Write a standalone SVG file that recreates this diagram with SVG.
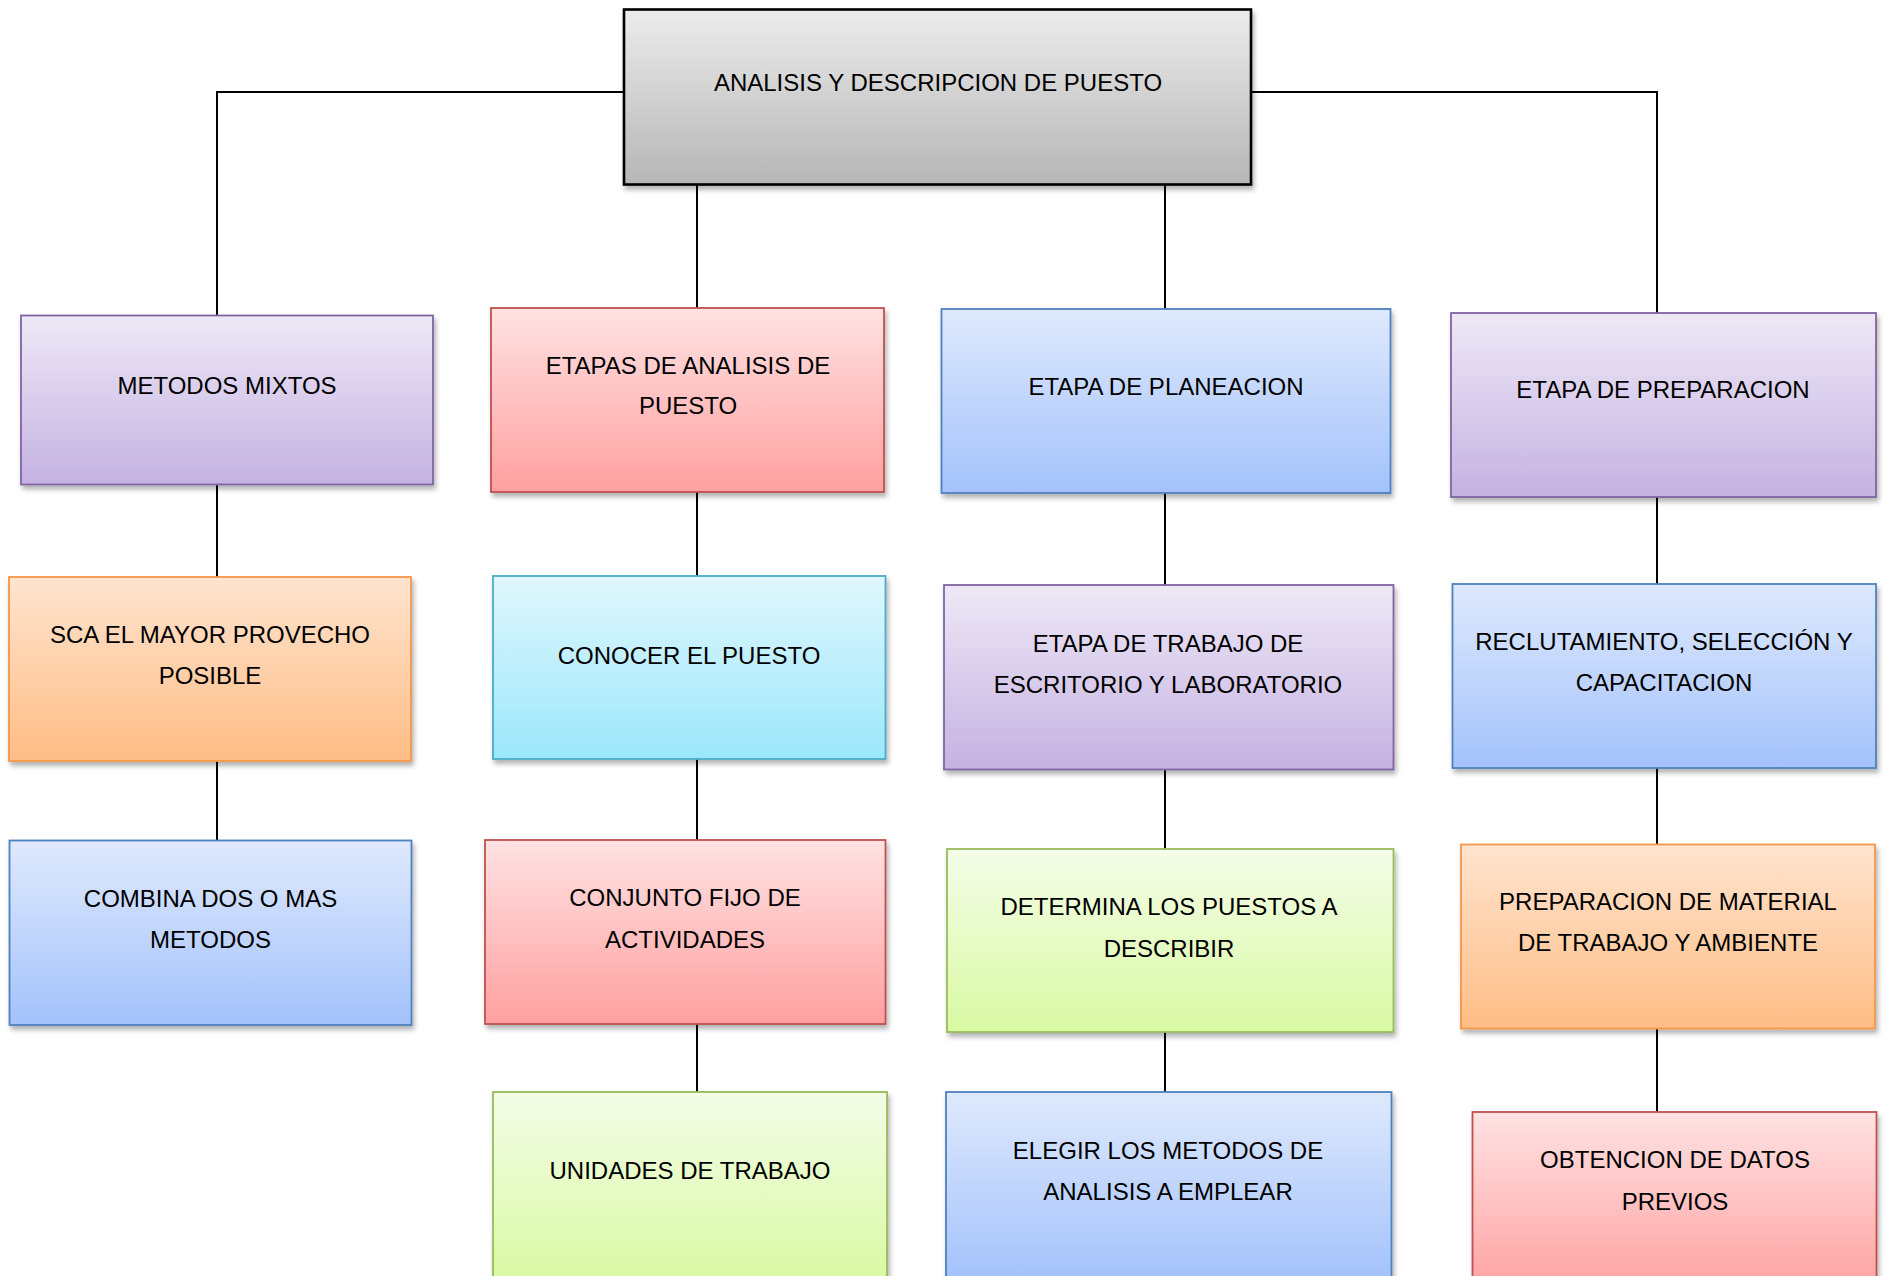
<svg xmlns="http://www.w3.org/2000/svg" width="1889" height="1276" viewBox="0 0 1889 1276">
<defs>
<linearGradient id="gGray" x1="0" y1="0" x2="0" y2="1"><stop offset="0" stop-color="#ececec"/><stop offset="1" stop-color="#b6b6b6"/></linearGradient>
<linearGradient id="gPurple" x1="0" y1="0" x2="0" y2="1"><stop offset="0" stop-color="#eee8f6"/><stop offset="1" stop-color="#c4b2e2"/></linearGradient>
<linearGradient id="gRed" x1="0" y1="0" x2="0" y2="1"><stop offset="0" stop-color="#ffe2e3"/><stop offset="1" stop-color="#ffa0a0"/></linearGradient>
<linearGradient id="gBlue" x1="0" y1="0" x2="0" y2="1"><stop offset="0" stop-color="#dfe9fd"/><stop offset="1" stop-color="#a3c2fb"/></linearGradient>
<linearGradient id="gOrange" x1="0" y1="0" x2="0" y2="1"><stop offset="0" stop-color="#ffe4cf"/><stop offset="1" stop-color="#ffbd85"/></linearGradient>
<linearGradient id="gCyan" x1="0" y1="0" x2="0" y2="1"><stop offset="0" stop-color="#e0f7fd"/><stop offset="1" stop-color="#9be7fb"/></linearGradient>
<linearGradient id="gGreen" x1="0" y1="0" x2="0" y2="1"><stop offset="0" stop-color="#f4fde8"/><stop offset="1" stop-color="#d9f9a3"/></linearGradient>
<filter id="sh" x="-5%" y="-5%" width="115%" height="120%"><feDropShadow dx="2" dy="4" stdDeviation="2.5" flood-color="#000" flood-opacity="0.3"/></filter>
</defs>
<style>
.box{filter:url(#sh);stroke-width:1.8}
.root{fill:url(#gGray);stroke:#000;stroke-width:2.6;filter:url(#sh)}
.purple{fill:url(#gPurple);stroke:#8064a2}
.red{fill:url(#gRed);stroke:#c0504d}
.blue{fill:url(#gBlue);stroke:#4f81bd}
.orange{fill:url(#gOrange);stroke:#f79646}
.cyan{fill:url(#gCyan);stroke:#4bacc6}
.green{fill:url(#gGreen);stroke:#9bbb59}
text{font-family:"Liberation Sans",Arial,sans-serif;font-size:24px;fill:#000;text-anchor:middle}
.conn{fill:none;stroke:#000;stroke-width:2}
</style>
<rect width="1889" height="1276" fill="#fff"/>
<g id="connectors">
<path class="conn" d="M624 92 H217 V315.5"/>
<path class="conn" d="M1251 92 H1657 V313"/>
<path class="conn" d="M697 184 V308"/>
<path class="conn" d="M1165 184 V309"/>
<path class="conn" d="M217 484.5 V577"/>
<path class="conn" d="M217 761 V840.5"/>
<path class="conn" d="M697 492 V576"/>
<path class="conn" d="M697 759 V840"/>
<path class="conn" d="M697 1024 V1092"/>
<path class="conn" d="M1165 493 V585"/>
<path class="conn" d="M1165 769.5 V849"/>
<path class="conn" d="M1165 1032 V1092"/>
<path class="conn" d="M1657 497 V584"/>
<path class="conn" d="M1657 768 V844.5"/>
<path class="conn" d="M1657 1028.5 V1112"/>
</g>
<g id="n-root"><rect class="root" x="624" y="9.5" width="627" height="175"/><text x="938" y="91">ANALISIS Y DESCRIPCION DE PUESTO</text></g>
<g id="n-metodos-mixtos"><rect class="box purple" x="21" y="315.5" width="412" height="169"/><text x="227" y="394">METODOS MIXTOS</text></g>
<g id="n-etapas-analisis"><rect class="box red" x="491" y="308" width="393" height="184"/><text x="688" y="373.5">ETAPAS DE ANALISIS DE</text><text x="688" y="414">PUESTO</text></g>
<g id="n-planeacion"><rect class="box blue" x="941.5" y="309" width="449" height="184"/><text x="1166" y="395">ETAPA DE PLANEACION</text></g>
<g id="n-preparacion"><rect class="box purple" x="1451" y="313" width="425" height="184"/><text x="1663" y="398">ETAPA DE PREPARACION</text></g>
<g id="n-sca"><rect class="box orange" x="9" y="577" width="402" height="184"/><text x="210" y="643">SCA EL MAYOR PROVECHO</text><text x="210" y="684">POSIBLE</text></g>
<g id="n-conocer"><rect class="box cyan" x="493" y="576" width="392.5" height="183"/><text x="689" y="664">CONOCER EL PUESTO</text></g>
<g id="n-trabajo"><rect class="box purple" x="944" y="585" width="449.5" height="184.5"/><text x="1168" y="651.5">ETAPA DE TRABAJO DE</text><text x="1168" y="693">ESCRITORIO Y LABORATORIO</text></g>
<g id="n-reclutamiento"><rect class="box blue" x="1452.5" y="584" width="423.5" height="184"/><text x="1664" y="649.5">RECLUTAMIENTO, SELECCIÓN Y</text><text x="1664" y="691">CAPACITACION</text></g>
<g id="n-combina"><rect class="box blue" x="9.5" y="840.5" width="402" height="184.5"/><text x="210.5" y="907">COMBINA DOS O MAS</text><text x="210.5" y="948">METODOS</text></g>
<g id="n-conjunto"><rect class="box red" x="485" y="840" width="400.5" height="184"/><text x="685" y="905.5">CONJUNTO FIJO DE</text><text x="685" y="947.5">ACTIVIDADES</text></g>
<g id="n-determina"><rect class="box green" x="947" y="849" width="446.5" height="183"/><text x="1169" y="915">DETERMINA LOS PUESTOS A</text><text x="1169" y="956.5">DESCRIBIR</text></g>
<g id="n-prep-material"><rect class="box orange" x="1461" y="844.5" width="414" height="184"/><text x="1668" y="909.5">PREPARACION DE MATERIAL</text><text x="1668" y="951">DE TRABAJO Y AMBIENTE</text></g>
<g id="n-unidades"><rect class="box green" x="493" y="1092" width="394" height="187"/><text x="690" y="1179">UNIDADES DE TRABAJO</text></g>
<g id="n-elegir"><rect class="box blue" x="946" y="1092" width="445.5" height="187"/><text x="1168" y="1158.5">ELEGIR LOS METODOS DE</text><text x="1168" y="1200">ANALISIS A EMPLEAR</text></g>
<g id="n-obtencion"><rect class="box red" x="1472.5" y="1112" width="404" height="184"/><text x="1675" y="1168">OBTENCION DE DATOS</text><text x="1675" y="1209.5">PREVIOS</text></g>
</svg>
